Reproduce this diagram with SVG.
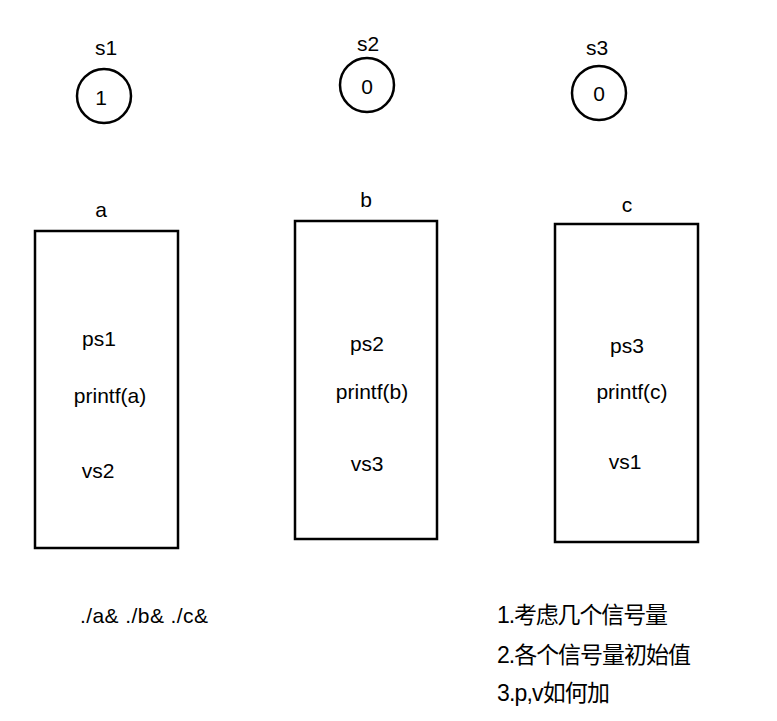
<svg xmlns="http://www.w3.org/2000/svg" width="777" height="721" viewBox="0 0 777 721">
<style>
.sh{fill:#fff;stroke:#000;stroke-width:2.5}
.t{font-family:"Liberation Sans","Noto Sans CJK SC",sans-serif;font-size:21px;fill:#000;text-anchor:middle;dominant-baseline:central}
.cn{font-family:"Liberation Sans","Noto Sans CJK SC",sans-serif;font-size:23px;fill:#000}
</style>
<rect width="777" height="721" fill="#fff"/>
<g id="s1"><text class="t" x="106" y="47">s1</text><circle class="sh" cx="104" cy="96" r="27"/><text class="t" x="101" y="97">1</text></g>
<g id="s2"><text class="t" x="368" y="43">s2</text><circle class="sh" cx="367" cy="85" r="27"/><text class="t" x="367" y="86">0</text></g>
<g id="s3"><text class="t" x="597" y="47">s3</text><circle class="sh" cx="599" cy="93" r="27"/><text class="t" x="599" y="93">0</text></g>
<g id="a"><text class="t" x="101" y="209">a</text><rect class="sh" x="35" y="231" width="143" height="317"/>
<text class="t" x="99" y="338">ps1</text><text class="t" x="110" y="395">printf(a)</text><text class="t" x="98" y="470">vs2</text></g>
<g id="b"><text class="t" x="366" y="199">b</text><rect class="sh" x="295" y="221" width="142" height="318"/>
<text class="t" x="367" y="343">ps2</text><text class="t" x="372" y="391">printf(b)</text><text class="t" x="367" y="463">vs3</text></g>
<g id="c"><text class="t" x="627" y="204">c</text><rect class="sh" x="555" y="224" width="143" height="318"/>
<text class="t" x="627" y="345">ps3</text><text class="t" x="632" y="391">printf(c)</text><text class="t" x="625" y="461">vs1</text></g>
<g id="connectors"></g>
<g id="notes">
<text class="t" x="144" y="615" textLength="128">./a&amp; ./b&amp; ./c&amp;</text>
<text class="cn" x="497" y="623" textLength="171">1.考虑几个信号量</text>
<text class="cn" x="497" y="663" textLength="194">2.各个信号量初始值</text>
<text class="cn" x="497" y="701" textLength="113">3.p,v如何加</text>
</g>
</svg>
